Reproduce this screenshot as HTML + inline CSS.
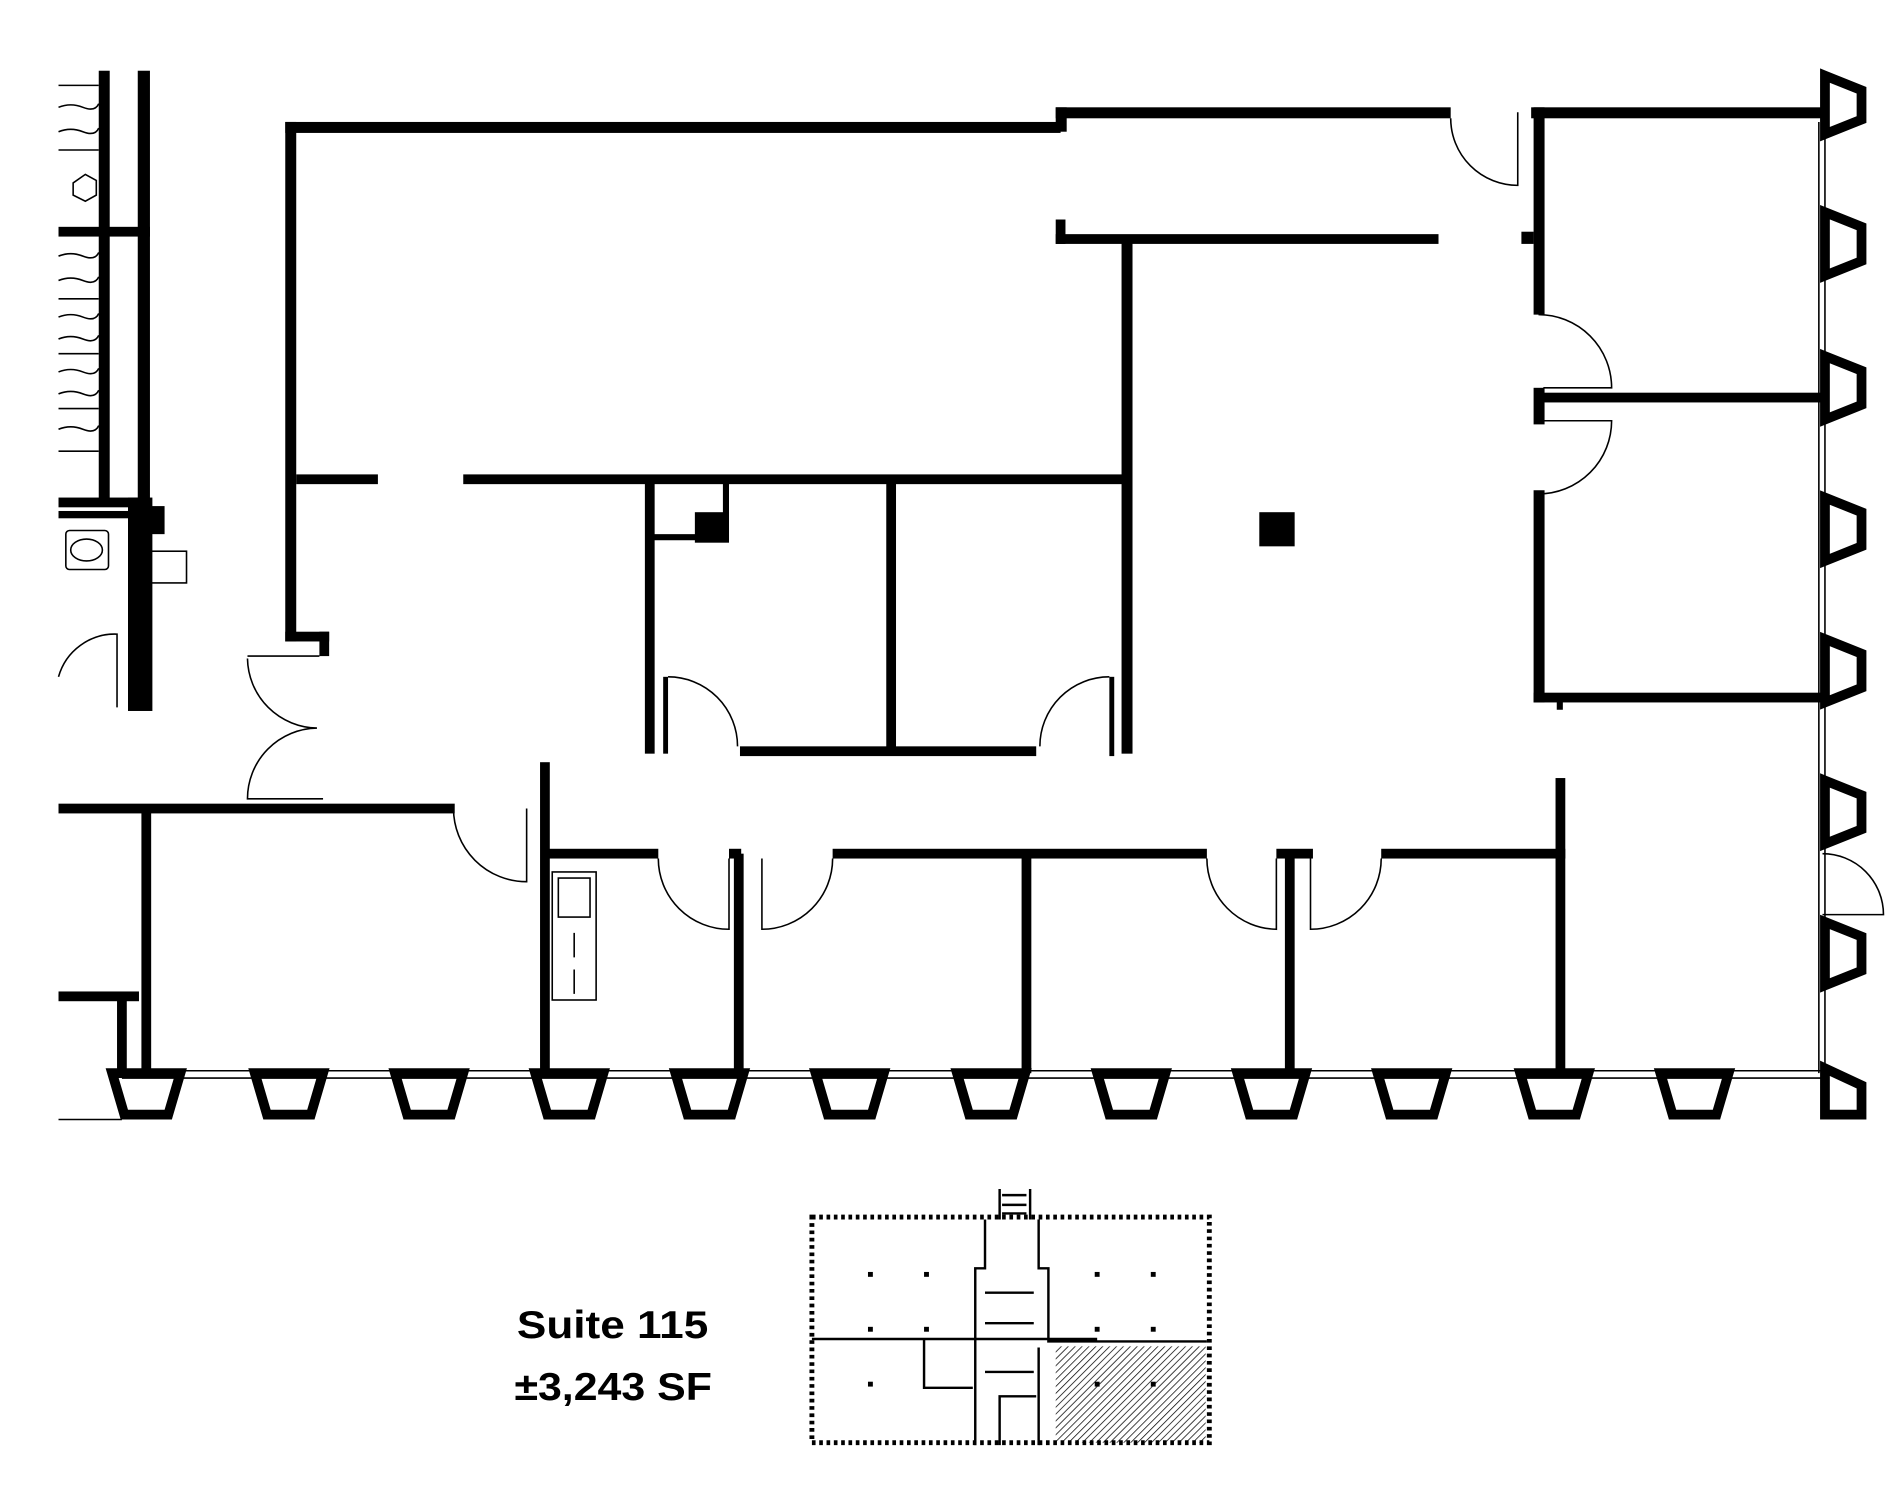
<!DOCTYPE html>
<html><head><meta charset="utf-8"><style>
html,body{margin:0;padding:0;background:#fff;}
svg{display:block}
</style></head><body>
<svg width="1892" height="1500" viewBox="0 0 1552 1230" preserveAspectRatio="none" xmlns="http://www.w3.org/2000/svg">
<rect width="1552" height="1230" fill="#fff"/>
<g fill="#000">
<rect x="81" y="58" width="9" height="355"/>
<rect x="113" y="58" width="10" height="360"/>
<rect x="48" y="186" width="75" height="8"/>
<rect x="48" y="408" width="75" height="8"/>
<rect x="48" y="419" width="78" height="6"/>
<rect x="105" y="408" width="20" height="175"/>
<rect x="120" y="415" width="15" height="23"/>
<rect x="234" y="100" width="636" height="9"/>
<rect x="866" y="88" width="9" height="20"/>
<rect x="866" y="88" width="324" height="9"/>
<rect x="234" y="100" width="9" height="426"/>
<rect x="234" y="518" width="36" height="8"/>
<rect x="262" y="518" width="8" height="20"/>
<rect x="243" y="389" width="67" height="8"/>
<rect x="380" y="389" width="545" height="8"/>
<rect x="866" y="180" width="8" height="20"/>
<rect x="866" y="192" width="314" height="8"/>
<rect x="920" y="196" width="9" height="422"/>
<rect x="529" y="393" width="8" height="225"/>
<rect x="727" y="393" width="8" height="220"/>
<rect x="607" y="612" width="243" height="8"/>
<rect x="533" y="438" width="64" height="5"/>
<rect x="593" y="393" width="5" height="50"/>
<rect x="570" y="420" width="28" height="25"/>
<rect x="1033" y="420" width="29" height="28"/>
<rect x="544" y="555" width="4" height="63"/>
<rect x="910" y="555" width="4" height="65"/>
<rect x="1256" y="88" width="240" height="9"/>
<rect x="1258" y="88" width="9" height="170"/>
<rect x="1248" y="190" width="10" height="10"/>
<rect x="1258" y="318" width="9" height="30"/>
<rect x="1262" y="322" width="234" height="8"/>
<rect x="1258" y="402" width="9" height="174"/>
<rect x="1258" y="568" width="238" height="8"/>
<rect x="1277" y="572" width="5" height="10"/>
<rect x="48" y="659" width="325" height="8"/>
<rect x="116" y="663" width="8" height="217"/>
<rect x="48" y="813" width="66" height="8"/>
<rect x="96" y="817" width="8" height="63"/>
<rect x="443" y="625" width="8" height="255"/>
<rect x="447" y="696" width="93" height="8"/>
<rect x="598" y="696" width="10" height="8"/>
<rect x="602" y="700" width="8" height="180"/>
<rect x="683" y="696" width="307" height="8"/>
<rect x="838" y="700" width="8" height="180"/>
<rect x="1047" y="696" width="30" height="8"/>
<rect x="1054" y="700" width="8" height="180"/>
<rect x="1133" y="696" width="151" height="8"/>
<rect x="1276" y="638" width="8" height="242"/>
</g>
<g fill="none" stroke="#000" stroke-width="1.3">
<path d="M548 555 A57 57 0 0 1 605 612"/>
<path d="M910 555 A57 57 0 0 0 853 612"/>
<path d="M1190 97 A55 55 0 0 0 1245 152 L1245 92"/>
<path d="M1262 258 A60 60 0 0 1 1322 318 L1266 318"/>
<path d="M1262 405 A60 60 0 0 0 1322 345 L1266 345"/>
<path d="M203 538 L262 538 M203 540 A58 58 0 0 0 260 597 A58 58 0 0 0 203 655 L265 655"/>
<path d="M372 663 A60 60 0 0 0 432 723 L432 663"/>
<path d="M540 704 A58 58 0 0 0 598 762 L598 704"/>
<path d="M683 704 A58 58 0 0 1 625 762 L625 704"/>
<path d="M990 704 A58 58 0 0 0 1047 762 L1047 704"/>
<path d="M1133 704 A58 58 0 0 1 1075 762 L1075 704"/>
<path d="M1495 700 A50 50 0 0 1 1545 750 L1495 750"/>
<path d="M48 555 A48 48 0 0 1 96 520 L96 580"/>
<rect x="453" y="715" width="36" height="105"/>
<rect x="458" y="720" width="26" height="32"/>
<path d="M471 765 V785 M471 795 V815"/>
<rect x="54" y="435" width="35" height="32" rx="3"/>
<ellipse cx="71" cy="451" rx="13" ry="9"/>
<rect x="123" y="452" width="30" height="26"/>
<path d="M60 150 L70 143 L79 148 L79 160 L70 165 L60 160 Z"/>
<path d="M48 70 H81 M48 123 H81 M48 245 H81 M48 290 H81 M48 335 H81 M48 370 H81"/>
<path d="M48 88 q10 -4 20 0 t13 -3 M48 108 q10 -4 20 0 t13 -3 M48 210 q10 -4 20 0 t13 -3 M48 230 q10 -4 20 0 t13 -3 M48 260 q10 -4 20 0 t13 -3 M48 278 q10 -4 20 0 t13 -3 M48 305 q10 -4 20 0 t13 -3 M48 323 q10 -4 20 0 t13 -3 M48 352 q10 -4 20 0 t13 -3"/>
<path d="M100 878 H1495 M100 884 H1495 M1492 100 V880 M1497 100 V880"/>
<path d="M48 918 H100"/>
</g>
<g fill="none" stroke="#000" stroke-width="8" stroke-linejoin="miter">
<path d="M92 880 H148 L138 914 H102 Z"/>
<path d="M209 880 H265 L255 914 H219 Z"/>
<path d="M324 880 H380 L370 914 H334 Z"/>
<path d="M439 880 H495 L485 914 H449 Z"/>
<path d="M554 880 H610 L600 914 H564 Z"/>
<path d="M669 880 H725 L715 914 H679 Z"/>
<path d="M785 880 H841 L831 914 H795 Z"/>
<path d="M900 880 H956 L946 914 H910 Z"/>
<path d="M1015 880 H1071 L1061 914 H1025 Z"/>
<path d="M1130 880 H1186 L1176 914 H1140 Z"/>
<path d="M1247 880 H1303 L1293 914 H1257 Z"/>
<path d="M1362 880 H1418 L1408 914 H1372 Z"/>
<path d="M1497 876 L1527 890 V914 H1497 Z"/>
<path d="M1497 62 L1527 74 V98 L1497 110 Z"/>
<path d="M1497 174 L1527 186 V214 L1497 226 Z"/>
<path d="M1497 292 L1527 304 V332 L1497 344 Z"/>
<path d="M1497 408 L1527 420 V448 L1497 460 Z"/>
<path d="M1497 524 L1527 536 V564 L1497 576 Z"/>
<path d="M1497 640 L1527 652 V680 L1497 692 Z"/>
<path d="M1497 756 L1527 768 V796 L1497 808 Z"/>
</g>
<g font-family="Liberation Sans, sans-serif" font-weight="bold" font-size="32" fill="#000">
<text x="424" y="1097" textLength="157" lengthAdjust="spacingAndGlyphs">Suite 115</text>
<text x="422" y="1148" textLength="162" lengthAdjust="spacingAndGlyphs">±3,243 SF</text>
</g>
<defs><pattern id="h" width="4" height="4" patternUnits="userSpaceOnUse" patternTransform="rotate(45)"><line x1="0" y1="0" x2="0" y2="4" stroke="#000" stroke-width="1.2"/></pattern></defs>
<g fill="none" stroke="#000" stroke-width="2">
<rect x="866" y="1104" width="123" height="79" fill="url(#h)" stroke="none"/>
<rect x="666" y="998" width="326" height="185" stroke-dasharray="3 3" stroke-width="4"/>
<path d="M666 1098 H900 M758 1098 V1138 H798 M808 1000 V1040 H800 V1185 M852 1000 V1040 H860 V1100 H990 M852 1105 V1185 M820 1185 V1145 H850 M820 975 V1000 M845 975 V1000 M822 980 H842 M822 988 H842 M822 995 H842 M808 1060 H848 M808 1085 H848 M808 1125 H848"/>
</g>
<g fill="#000">
<rect x="712" y="1043" width="4" height="4"/><rect x="758" y="1043" width="4" height="4"/>
<rect x="712" y="1088" width="4" height="4"/><rect x="758" y="1088" width="4" height="4"/>
<rect x="712" y="1133" width="4" height="4"/>
<rect x="898" y="1043" width="4" height="4"/><rect x="944" y="1043" width="4" height="4"/>
<rect x="898" y="1088" width="4" height="4"/><rect x="944" y="1088" width="4" height="4"/>
<rect x="898" y="1133" width="4" height="4"/><rect x="944" y="1133" width="4" height="4"/>
</g>
</svg>
</body></html>
